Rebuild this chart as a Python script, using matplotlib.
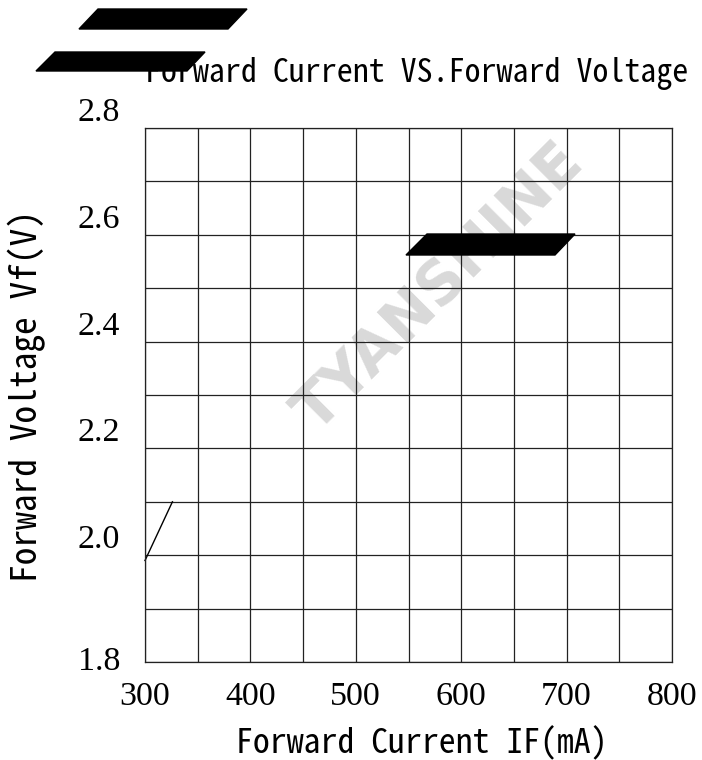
import matplotlib
matplotlib.use('Agg')
import matplotlib.pyplot as plt
from matplotlib import font_manager
from matplotlib.patches import Polygon
import numpy as np

# data
current_ma = [300, 326]
voltage_v = [1.99, 2.10]
x_ticks = [300, 400, 500, 600, 700, 800]
y_ticks = [1.8, 2.0, 2.2, 2.4, 2.6, 2.8]

title = 'Forward Current VS.Forward Voltage'
x_label = 'Forward Current IF(mA)'
y_label = 'Forward Voltage Vf(V)'


def pick_font(names):
    for n in names:
        try:
            font_manager.findfont(n, fallback_to_default=False)
            return n
        except Exception:
            pass
    return 'DejaVu Sans Mono'


mono = pick_font(['Noto Sans Mono CJK JP', 'Noto Sans Mono CJK SC',
                  'Liberation Mono'])

W, H = 702, 760
fig = plt.figure(figsize=(W / 100, H / 100), dpi=100)
ax = fig.add_axes([145 / W, 1 - 662 / H, (672 - 145) / W, (662 - 128) / H])

ax.set_xlim(300, 800)
ax.set_ylim(1.8, 2.8)
ax.set_xticks(x_ticks)
ax.set_yticks(y_ticks)
ax.set_xticks(np.arange(300, 801, 50), minor=True)
ax.set_yticks(np.arange(1.8, 2.81, 0.1), minor=True)
ax.grid(which='both', color='#222222', linewidth=0.9)
ax.tick_params(which='both', length=0)
ax.tick_params(axis='x', pad=14)
ax.tick_params(axis='y', pad=18)
for lab in ax.get_xticklabels() + ax.get_yticklabels():
    lab.set_family('Liberation Serif')
    lab.set_fontsize(24.5)
ylabs = ax.get_yticklabels()
for lab in ylabs[1:]:
    lab.set_verticalalignment('bottom')
ylabs[0].set_verticalalignment('center')
for s in ax.spines.values():
    s.set_color('#222222')
    s.set_linewidth(0.9)

ax.plot(current_ma, voltage_v, color='black', linewidth=1.0, clip_on=False)

# watermark
ax.text(0.56, 0.70, 'TYANSHINE', transform=ax.transAxes, rotation=45,
        fontsize=43, fontweight='bold', color='#d9d9d9', ha='center',
        va='center', zorder=0, family='DejaVu Sans')

fig.text(417 / W, 1 - 82 / H, title, family=mono, fontsize=23,
         ha='center', va='baseline')
fig.text(422 / W, 1 - 753 / H, x_label, family=mono, fontsize=24.3,
         ha='center', va='baseline')
fig.text(27 / W, 1 - 396 / H, y_label, family=mono, fontsize=25.5,
         rotation=90, ha='center', va='center')

# black redaction bars from the source image (pixel coords, top-left origin)
bars = [
    [(98, 9), (247, 9), (228, 29), (79, 29)],
    [(55, 52), (205, 52), (187, 71), (36, 71)],
    [(427, 234), (575, 234), (555, 255), (406, 255)],
]
for b in bars:
    pts = [(x / W, 1 - y / H) for x, y in b]
    fig.patches.append(Polygon(pts, closed=True, color='black',
                               transform=fig.transFigure, zorder=10))

fig.savefig('out.png', dpi=100)
